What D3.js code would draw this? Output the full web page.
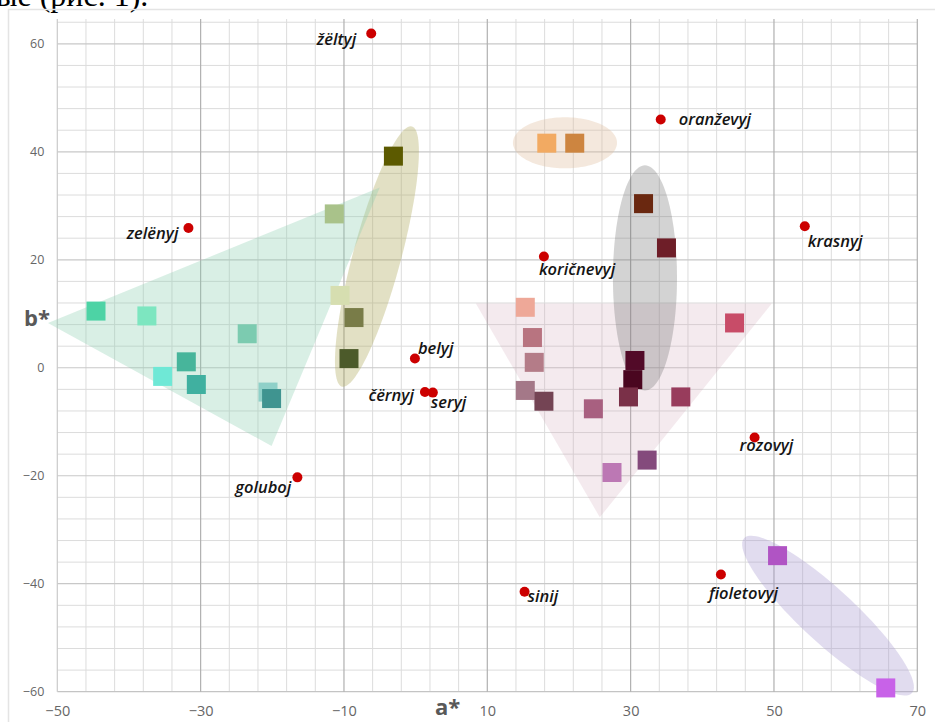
<!DOCTYPE html>
<html><head><meta charset="utf-8">
<script src="https://cdn.jsdelivr.net/npm/d3@7"></script>
<style>
html,body{margin:0;padding:0;background:#fff;overflow:hidden}
svg{display:block}
</style></head><body>
<svg id="c" width="935" height="722"></svg>
<script>
// ---------- data ----------
const xTicks = [-50, -30, -10, 10, 30, 50, 70];
const yTicks = [-60, -40, -20, 0, 20, 40, 60];

// basic colour terms (red dots)
const termNames = ["žëltyj", "zelënyj", "belyj", "čërnyj", "seryj", "goluboj", "oranževyj", "krasnyj", "koričnevyj", "rozovyj", "fioletovyj", "sinij"];
const termA = [-6.2, -31.7, -0.1, 1.3, 2.4, -16.5, 34.2, 54.3, 17.9, 47.3, 42.6, 15.2];
const termB = [61.9, 25.9, 1.7, -4.5, -4.6, -20.3, 46.0, 26.2, 20.6, -12.9, -38.3, -41.5];

// colour samples (squares)
const sampleA = [-44.6, -37.5, -23.5, -32.0, -35.3, -30.6, -20.6, -20.1,
                 -3.1, -11.35, -10.55, -8.6, -9.3,
                 18.3, 22.2,
                 31.8, 35.0,
                 15.3, 16.3, 16.55, 15.3, 17.9, 30.6, 30.3, 29.7, 24.8, 37.0, 44.5, 32.3, 27.4,
                 50.5, 65.6];
const sampleB = [10.5, 9.6, 6.3, 1.1, -1.6, -3.1, -4.5, -5.7,
                 39.2, 28.5, 13.4, 9.3, 1.7,
                 41.6, 41.6,
                 30.4, 22.2,
                 11.2, 5.6, 1.0, -4.2, -6.2, 1.35, -2.2, -5.4, -7.6, -5.4, 8.3, -17.1, -19.4,
                 -34.8, -59.3];
const sampleFill = ["#4dd3a5", "#7de6c0", "#7ccbb0", "#47b59b", "#6fe8d6", "#40b0a0", "#8fd0c8", "#3f9490",
                    "#5c5a00", "#a9c28a", "#d6deb0", "#797c48", "#4c5a2a",
                    "#f2aa62", "#cd8540",
                    "#6a2810", "#6e1e28",
                    "#eea898", "#b87480", "#b47c88", "#a47888", "#744454", "#520a28", "#4a0620", "#7a3048", "#a86080", "#983c5c", "#c84c68", "#844a7c", "#bc78b4",
                    "#b054c4", "#c862e8"];

// grouping regions, in a*/b* units
const greenTriA = [-51.3, -5.0, -20.1];
const greenTriB = [8.3, 33.4, -14.5];
const pinkTriA = [8.4, 49.7, 25.7];
const pinkTriB = [11.9, 11.9, -27.7];
// ellipses: centre, half-axis vector u, half-axis vector v (a*, b*)
const ellipseNames = ["olive", "orange", "brown", "violet"];
const ellCA = [-5.4, 20.84, 32.0, 57.54];
const ellCB = [20.6, 41.67, 16.64, -45.91];
const ellUA = [4.88, 7.26, 4.47, 11.71];
const ellUB = [24.1, 0, 0, -14.33];
const ellVA = [3.24, 0, 0, -2.55];
const ellVB = [-1.16, 4.73, 20.85, -3.69];

// ---------- styles / layout ----------
const ellFill = {olive: "rgba(176,168,92,0.36)", orange: "rgba(222,188,155,0.34)", brown: "rgba(110,110,110,0.30)", violet: "rgba(168,152,208,0.34)"};
const labelPlace = {
  "žëltyj": [-15, 11, "end"], "zelënyj": [-10, 11, "end"], "belyj": [3, -5, "start"],
  "čërnyj": [-11, 9, "end"], "seryj": [-2, 15, "start"], "goluboj": [-6, 16, "end"],
  "oranževyj": [18, 6, "start"], "krasnyj": [3, 21, "start"], "koričnevyj": [-5, 18, "start"],
  "rozovyj": [-15, 14, "start"], "fioletovyj": [-12, 24, "start"], "sinij": [3, 10, "start"]
};

const svg = d3.select("#c");
const x = d3.scaleLinear().domain([-50, 70]).range([57.3, 917.3]);
const y = d3.scaleLinear().domain([-60, 64.6]).range([691.7, 19]);
const [x0, x1] = x.range();
const [y0, y1] = y.range();

// cropped caption above the figure
svg.append("text").attr("x", -4).attr("y", 6)
  .attr("font-family", "Liberation Serif, serif").attr("font-size", 32)
  .attr("fill", "#000").text("ые (рис. 1).");

// outer frame
svg.append("rect").attr("x", 8.5).attr("y", 9.5).attr("width", 960).attr("height", 760)
  .attr("fill", "none").attr("stroke", "#e4e4e4").attr("stroke-width", 1.5);

// grid
const minorX = d3.range(-46, 70, 4).filter(v => (v + 50) % 20 !== 0);
const minorY = d3.range(-56, 65, 4).filter(v => (v + 60) % 20 !== 0);
const grid = svg.append("g");
grid.selectAll("line.mx").data(minorX).join("line")
  .attr("x1", d => x(d)).attr("x2", d => x(d)).attr("y1", y1).attr("y2", y0)
  .attr("stroke", "#dcdcdc").attr("stroke-width", 1);
grid.selectAll("line.my").data(minorY).join("line")
  .attr("x1", x0).attr("x2", x1).attr("y1", d => y(d)).attr("y2", d => y(d))
  .attr("stroke", "#dcdcdc").attr("stroke-width", 1);
grid.selectAll("line.My").data(yTicks).join("line")
  .attr("x1", x0).attr("x2", x1).attr("y1", d => y(d)).attr("y2", d => y(d))
  .attr("stroke", d => d === -60 ? "#c4c4c4" : "#c8c8c8").attr("stroke-width", 1.2);
grid.selectAll("line.Mx").data(xTicks).join("line")
  .attr("x1", d => x(d)).attr("x2", d => x(d)).attr("y1", y1).attr("y2", y0)
  .attr("stroke", d => d === -50 ? "#cacaca" : "#b0b0b0").attr("stroke-width", 1.2);

// axes (labels only)
const fmt = d3.format("d");
const ax = svg.append("g").attr("transform", `translate(0,${y0})`)
  .call(d3.axisBottom(x).tickValues(xTicks).tickSize(0).tickPadding(14).tickFormat(fmt));
ax.select(".domain").remove();
ax.selectAll("text").attr("font-family", "Open Sans, sans-serif").attr("font-size", 14.5).attr("fill", "#666");
const ay = svg.append("g").attr("transform", `translate(${x0},0)`)
  .call(d3.axisLeft(y).tickValues(yTicks).tickSize(0).tickPadding(13).tickFormat(fmt));
ay.select(".domain").remove();
ay.selectAll("text").attr("font-family", "Open Sans, sans-serif").attr("font-size", 12.5).attr("fill", "#666");

svg.append("text").attr("x", 24).attr("y", 326)
  .attr("font-family", "Open Sans, sans-serif").attr("font-weight", 700).attr("font-size", 22)
  .attr("fill", "#595959").text("b*");
svg.append("text").attr("x", 435).attr("y", 715)
  .attr("font-family", "Open Sans, sans-serif").attr("font-weight", 700).attr("font-size", 22)
  .attr("fill", "#595959").text("a*");

// regions
const shapes = svg.append("g");
const line = d3.line().curve(d3.curveLinearClosed);
function ellipsePts(i) {
  return d3.range(0, 120).map(k => {
    const t = k / 120 * 2 * Math.PI;
    return [x(ellCA[i] + ellUA[i] * Math.cos(t) + ellVA[i] * Math.sin(t)),
            y(ellCB[i] + ellUB[i] * Math.cos(t) + ellVB[i] * Math.sin(t))];
  });
}
ellipseNames.forEach((n, i) => {
  shapes.append("path").attr("d", line(ellipsePts(i))).attr("fill", ellFill[n]);
  if (n === "olive") {
    shapes.append("path")
      .attr("d", line(greenTriA.map((a, j) => [x(a), y(greenTriB[j])])))
      .attr("fill", "rgba(140,205,175,0.33)");
    shapes.append("path")
      .attr("d", line(pinkTriA.map((a, j) => [x(a), y(pinkTriB[j])])))
      .attr("fill", "rgba(205,160,178,0.22)");
  }
});

// squares
const S = 19;
svg.append("g").selectAll("rect").data(sampleA).join("rect")
  .attr("x", (d, i) => x(d) - S / 2).attr("y", (d, i) => y(sampleB[i]) - S / 2)
  .attr("width", S).attr("height", S).attr("fill", (d, i) => sampleFill[i]);

// named colour terms
const terms = svg.append("g");
terms.selectAll("circle").data(termNames).join("circle")
  .attr("cx", (d, i) => x(termA[i])).attr("cy", (d, i) => y(termB[i])).attr("r", 5)
  .attr("fill", "#cc0000");
terms.selectAll("text").data(termNames).join("text")
  .attr("x", (d, i) => x(termA[i]) + labelPlace[d][0])
  .attr("y", (d, i) => y(termB[i]) + labelPlace[d][1])
  .attr("text-anchor", d => labelPlace[d][2])
  .attr("font-family", "Open Sans, sans-serif").attr("font-style", "italic").attr("font-weight", 600)
  .attr("font-size", 16.5).attr("fill", "#151515").text(d => d);
</script>
</body></html>
